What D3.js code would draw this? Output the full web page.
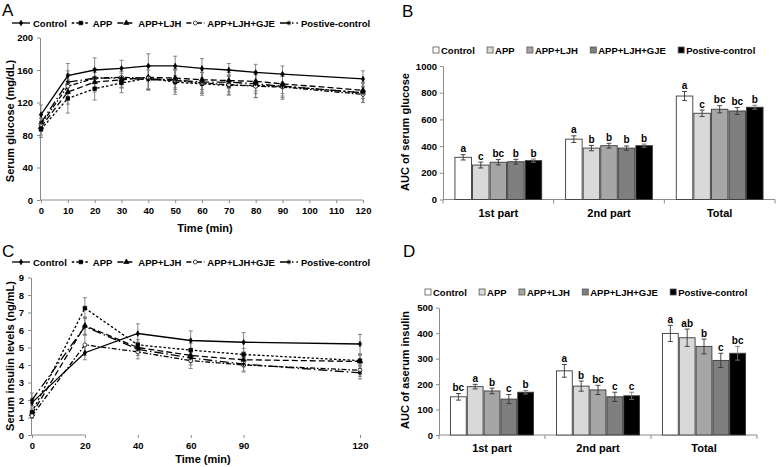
<!DOCTYPE html>
<html><head><meta charset="utf-8">
<script src="https://cdn.jsdelivr.net/npm/d3@7"></script>
<style>
body{margin:0;background:#fff}
text{font-family:"Liberation Sans",Arial,sans-serif}
</style>
</head><body>
<script>
// ---------- DATA ----------
const seriesNames = ["Control","APP","APP+LJH","APP+LJH+GJE","Postive-control"];

// Panel A: serum glucose (mg/dL)
const glucoseTimes = [0,10,20,30,40,50,60,70,80,90,120];
const glucoseXTicks = [0,10,20,30,40,50,60,70,80,90,100,110,120];
const glucoseYTicks = [0,40,80,120,160,200];
const glucoseControl = [105,153,160,162,165,165,162,160,157,155,149];
const glucoseControlErr = [12,15,15,10,15,12,12,8,10,10,10];
const glucoseAPP = [87,125,137,144,150,145,143,141,141,140,132];
const glucoseAPPErr = [10,18,14,12,15,15,14,12,15,14,12];
const glucoseLJH = [90,133,145,148,151,150,148,147,146,143,135];
const glucoseLJHErr = [10,15,12,10,14,12,12,10,12,12,10];
const glucoseGJE = [93,140,150,151,150,147,144,142,140,139,130];
const glucoseGJEErr = [8,15,12,12,14,14,13,12,14,15,10];
const glucosePC = [95,145,150,150,148,148,145,145,143,140,132];
const glucosePCErr = [10,14,12,12,12,12,12,12,12,12,12];

// Panel B: AUC of serum glucose
const aucParts = ["1st part","2nd part","Total"];
const glucoseAucYTicks = [0,200,400,600,800,1000];
const aucGluControl = [316,452,775];
const aucGluAPP = [258,385,646];
const aucGluLJH = [279,403,676];
const aucGluGJE = [283,385,663];
const aucGluPC = [291,403,691];
const errGluControl = [20,25,34];
const errGluAPP = [22,20,24];
const errGluLJH = [20,18,27];
const errGluGJE = [18,16,26];
const errGluPC = [12,12,15];
const letGluControl = ["a","a","a"];
const letGluAPP = ["c","b","c"];
const letGluLJH = ["bc","b","bc"];
const letGluGJE = ["b","b","bc"];
const letGluPC = ["b","b","b"];

// Panel C: serum insulin (ng/mL)
const insulinTimes = [0,20,40,60,90,120];
const insulinYTicks = [0,1,2,3,4,5,6,7,8,9];
const insulinControl = [1.85,4.7,5.8,5.4,5.3,5.2];
const insulinControlErr = [0.15,0.4,0.55,0.55,0.55,0.55];
const insulinAPP = [1.3,7.25,5.15,4.85,4.6,4.25];
const insulinAPPErr = [0.2,0.6,0.3,0.4,0.35,0.3];
const insulinLJH = [1.2,6.25,5.0,4.55,4.3,4.2];
const insulinLJHErr = [0.2,0.5,0.3,0.4,0.4,0.4];
const insulinGJE = [1.1,5.15,4.75,4.25,4.0,3.7];
const insulinGJEErr = [0.15,0.6,0.4,0.45,0.4,0.35];
const insulinPC = [2.0,6.2,4.9,4.4,4.05,3.55];
const insulinPCErr = [0.4,0.5,0.35,0.4,0.4,0.35];

// Panel D: AUC of serum insulin
const insulinAucYTicks = [0,100,200,300,400,500];
const aucInsControl = [150,252,399];
const aucInsAPP = [190,192,382];
const aucInsLJH = [173,177,348];
const aucInsGJE = [141,150,293];
const aucInsPC = [168,154,321];
const errInsControl = [13,25,32];
const errInsAPP = [9,20,34];
const errInsLJH = [11,18,29];
const errInsGJE = [18,18,28];
const errInsPC = [7,14,27];
const letInsControl = ["bc","a","a"];
const letInsAPP = ["a","b","ab"];
const letInsLJH = ["b","bc","b"];
const letInsGJE = ["c","c","c"];
const letInsPC = ["b","c","bc"];

// ---------- STYLE ----------
const barFills = ["#ffffff","#d9d9d9","#a6a6a6","#7f7f7f","#000000"];
const lineDashes = [null,"2.5,2","6,3","5,2,1.5,2","9,3,1.5,3"];
const axisColor = "#8c8c8c";
const FONT = '"Liberation Sans",Arial,sans-serif';

const svg = d3.select("body").append("svg").attr("width",778).attr("height",467);

// custom asterisk symbol
const symAsterisk = {draw(ctx,size){const r=Math.sqrt(size)/2;
  ctx.moveTo(0,-r);ctx.lineTo(0,r);
  const a=r*0.87, b=r*0.5;
  ctx.moveTo(-a,-b);ctx.lineTo(a,b);ctx.moveTo(-a,b);ctx.lineTo(a,-b);}};
const markerDefs = [
  {type:d3.symbolDiamond,size:9,fill:"#000",stroke:"#000"},
  {type:d3.symbolSquare,size:13,fill:"#000",stroke:"#000"},
  {type:d3.symbolTriangle,size:12,fill:"#000",stroke:"#000"},
  {type:d3.symbolCircle,size:12,fill:"#fff",stroke:"#000"},
  {type:symAsterisk,size:22,fill:"none",stroke:"#000"}
];

function styleAxis(g){
  g.selectAll(".domain").attr("stroke",axisColor);
  g.selectAll(".tick line").attr("stroke",axisColor);
  g.selectAll(".tick text").attr("fill","#000").attr("font-family",FONT)
    .attr("font-weight","bold").attr("font-size","9.5px");
}

function panelLetter(t,x,y){
  svg.append("text").attr("x",x).attr("y",y).attr("font-size","17px")
    .attr("font-family",FONT).text(t);
}

function drawMarker(g,i,x,y){
  const m = markerDefs[i];
  g.append("path").attr("d",d3.symbol().type(m.type).size(m.size)())
    .attr("transform",`translate(${x},${y})`)
    .attr("fill",m.fill).attr("stroke",m.stroke).attr("stroke-width",i===4?1:0.7);
}

function drawLinePanel(cfg){
  const {x,y,times,series,xTicks,yTicks,legendY,xTitle,yTitle} = cfg;
  const g = svg.append("g");
  const gy = g.append("g").attr("transform",`translate(${x.range()[0]-1},0)`)
    .call(d3.axisLeft(y).tickValues(yTicks).tickSize(3).tickSizeOuter(0).tickPadding(4).tickFormat(d3.format("d")));
  styleAxis(gy);
  const gx = g.append("g").attr("transform",`translate(0,${y(0)})`)
    .call(d3.axisBottom(x).tickValues(xTicks).tickSize(3).tickSizeOuter(0).tickPadding(4).tickFormat(d3.format("d")));
  styleAxis(gx);
  gx.select(".domain").attr("d",`M${x.range()[0]-1},0H${x.range()[1]}`);
  // error bars
  series.forEach((s,si)=>{
    const eg = g.append("g").attr("stroke","#7a7a7a").attr("stroke-width",0.9);
    times.forEach((t,i)=>{
      const cx = x(t), y1 = y(s.vals[i]+s.errs[i]), y2 = y(s.vals[i]-s.errs[i]);
      eg.append("line").attr("x1",cx).attr("x2",cx).attr("y1",y1).attr("y2",y2);
      eg.append("line").attr("x1",cx-2).attr("x2",cx+2).attr("y1",y1).attr("y2",y1);
      eg.append("line").attr("x1",cx-2).attr("x2",cx+2).attr("y1",y2).attr("y2",y2);
    });
  });
  // lines
  const line = d3.line().x((d,i)=>x(times[i])).y(d=>y(d));
  series.forEach((s,si)=>{
    g.append("path").datum(s.vals).attr("d",line).attr("fill","none")
      .attr("stroke","#000").attr("stroke-width",1.3)
      .attr("stroke-dasharray",lineDashes[si]);
  });
  series.forEach((s,si)=>{
    times.forEach((t,i)=>drawMarker(g,si,x(t),y(s.vals[i])));
  });
  // legend
  let lx = 12;
  const lg = svg.append("g");
  seriesNames.forEach((name,si)=>{
    lg.append("line").attr("x1",lx).attr("x2",lx+18).attr("y1",legendY).attr("y2",legendY)
      .attr("stroke","#000").attr("stroke-width",1.3).attr("stroke-dasharray",lineDashes[si]);
    drawMarker(lg,si,lx+9,legendY);
    const t = lg.append("text").attr("x",lx+21).attr("y",legendY+3.5)
      .attr("font-family",FONT).attr("font-size","9.5px").attr("font-weight","bold").text(name);
    lx += 21 + t.node().getComputedTextLength() + 5;
  });
  // titles
  svg.append("text").attr("x",xTitle[0]).attr("y",xTitle[1]).attr("text-anchor","middle")
    .attr("font-size","11px").attr("font-weight","bold").text("Time (min)");
  svg.append("text").attr("transform",`translate(${yTitle[0]},${yTitle[1]}) rotate(-90)`)
    .attr("text-anchor","middle").attr("font-size","11px").attr("font-weight","bold").text(yTitle[2]);
}

function drawBarPanel(cfg){
  const {left,right,y,yTicks,vals,errs,lets,legendY,legendX,yTitle,labelY} = cfg;
  const g = svg.append("g");
  const x0 = d3.scaleBand().domain(aucParts).range([left,right]).paddingInner(0).paddingOuter(0);
  const x1 = d3.scaleBand().domain(seriesNames).range([0,x0.bandwidth()]).paddingInner(0.06).paddingOuter(0.68);
  const gy = g.append("g").attr("transform",`translate(${left},0)`)
    .call(d3.axisLeft(y).tickValues(yTicks).tickSize(3).tickSizeOuter(0).tickPadding(3).tickFormat(d3.format("d")));
  styleAxis(gy);
  const gx = g.append("g").attr("transform",`translate(0,${y(0)})`);
  gx.append("line").attr("x1",left).attr("x2",right).attr("stroke",axisColor);
  [left,...aucParts.map(p=>x0(p)+x0.bandwidth())].forEach(px=>{
    gx.append("line").attr("x1",px).attr("x2",px).attr("y1",0).attr("y2",4).attr("stroke",axisColor);
  });
  aucParts.forEach(p=>{
    gx.append("text").attr("x",x0(p)+x0.bandwidth()/2).attr("y",labelY-y(0))
      .attr("text-anchor","middle").attr("font-size","11px").attr("font-weight","bold").text(p);
  });
  seriesNames.forEach((name,si)=>{
    aucParts.forEach((p,pi)=>{
      const bx = x0(p)+x1(name), v = vals[si][pi], e = errs[si][pi];
      g.append("rect").attr("x",bx).attr("y",y(v)).attr("width",x1.bandwidth())
        .attr("height",y(0)-y(v)).attr("fill",barFills[si]).attr("stroke","#3a3a3a").attr("stroke-width",0.9);
      const cx = bx + x1.bandwidth()/2;
      const eg = g.append("g").attr("stroke",si===4?"#777":"#333").attr("stroke-width",0.9);
      eg.append("line").attr("x1",cx).attr("x2",cx).attr("y1",y(v+e)).attr("y2",y(v-e));
      eg.append("line").attr("x1",cx-2.5).attr("x2",cx+2.5).attr("y1",y(v+e)).attr("y2",y(v+e));
      eg.append("line").attr("x1",cx-2.5).attr("x2",cx+2.5).attr("y1",y(v-e)).attr("y2",y(v-e));
      g.append("text").attr("x",cx).attr("y",y(v+e)-2.5).attr("text-anchor","middle")
        .attr("font-size","10px").attr("font-weight","bold").text(lets[si][pi]);
    });
  });
  let lx = legendX;
  seriesNames.forEach((name,si)=>{
    svg.append("rect").attr("x",lx).attr("y",legendY-3).attr("width",6).attr("height",6)
      .attr("fill",barFills[si]).attr("stroke","#555").attr("stroke-width",0.8);
    const t = svg.append("text").attr("x",lx+8).attr("y",legendY+3.5)
      .attr("font-family",FONT).attr("font-size","9.5px").attr("font-weight","bold").text(name);
    lx += 8 + t.node().getComputedTextLength() + 12.3;
  });
  svg.append("text").attr("transform",`translate(${yTitle[0]},${yTitle[1]}) rotate(-90)`)
    .attr("text-anchor","middle").attr("font-size","11px").attr("font-weight","bold").text(yTitle[2]);
}

// ---------- PANEL A ----------
panelLetter("A",2,16);
drawLinePanel({
  x: d3.scaleLinear().domain([0,120]).range([41,363]),
  y: d3.scaleLinear().domain([0,200]).range([200,37.5]),
  times: glucoseTimes, xTicks: glucoseXTicks, yTicks: glucoseYTicks,
  series: [
    {vals:glucoseControl,errs:glucoseControlErr},
    {vals:glucoseAPP,errs:glucoseAPPErr},
    {vals:glucoseLJH,errs:glucoseLJHErr},
    {vals:glucoseGJE,errs:glucoseGJEErr},
    {vals:glucosePC,errs:glucosePCErr}],
  legendY: 23, xTitle:[205,232], yTitle:[14,121,"Serum glucose (mg/dL)"]
});

// ---------- PANEL B ----------
panelLetter("B",402,17);
drawBarPanel({
  left:443, right:775,
  y: d3.scaleLinear().domain([0,1000]).range([199.5,66]),
  yTicks: glucoseAucYTicks,
  vals:[aucGluControl,aucGluAPP,aucGluLJH,aucGluGJE,aucGluPC],
  errs:[errGluControl,errGluAPP,errGluLJH,errGluGJE,errGluPC],
  lets:[letGluControl,letGluAPP,letGluLJH,letGluGJE,letGluPC],
  legendY:50, legendX:433, labelY:217, yTitle:[409,132,"AUC of serum glucose"]
});

// ---------- PANEL C ----------
panelLetter("C",2,257);
{
  const step = (360-32)/6.2;
  const xs = d3.scaleLinear().domain(insulinTimes)
    .range(insulinTimes.map((t,i)=>32 + step*(i<5?i:6.2)));
  drawLinePanel({
    x: xs,
    y: d3.scaleLinear().domain([0,9]).range([435,277.5]),
    times: insulinTimes, xTicks: insulinTimes, yTicks: insulinYTicks,
    series: [
      {vals:insulinControl,errs:insulinControlErr},
      {vals:insulinAPP,errs:insulinAPPErr},
      {vals:insulinLJH,errs:insulinLJHErr},
      {vals:insulinGJE,errs:insulinGJEErr},
      {vals:insulinPC,errs:insulinPCErr}],
    legendY: 262, xTitle:[203,463], yTitle:[14,356,"Serum insulin levels (ng/mL)"]
  });
}

// ---------- PANEL D ----------
panelLetter("D",403,257);
drawBarPanel({
  left:439, right:757,
  y: d3.scaleLinear().domain([0,500]).range([435,307.7]),
  yTicks: insulinAucYTicks,
  vals:[aucInsControl,aucInsAPP,aucInsLJH,aucInsGJE,aucInsPC],
  errs:[errInsControl,errInsAPP,errInsLJH,errInsGJE,errInsPC],
  lets:[letInsControl,letInsAPP,letInsLJH,letInsGJE,letInsPC],
  legendY:292, legendX:425, labelY:452, yTitle:[409,370,"AUC of aserum insulin"]
});

svg.selectAll("text").attr("font-family",FONT);
</script>
</body></html>
